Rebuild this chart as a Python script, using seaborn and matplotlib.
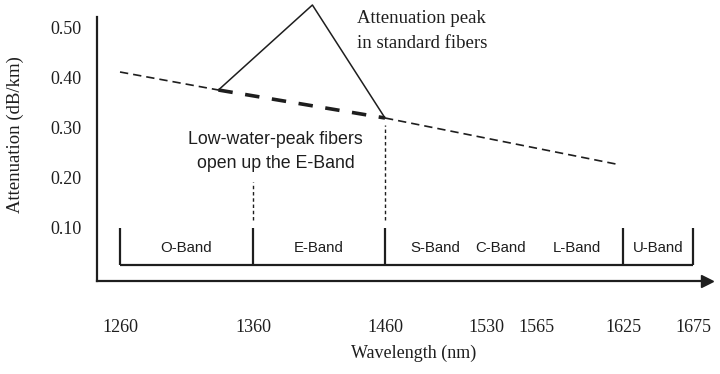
import numpy as np
import pandas as pd
import matplotlib
matplotlib.use("Agg")
import matplotlib.pyplot as plt
import matplotlib.transforms as mtransforms
import seaborn as sns

# ---- data -------------------------------------------------------------
# attenuation of low-water-peak fiber (dashed curve)
curve_wl = [1260, 1334]
curve_att = [0.400, 0.364]
curve_wl_right = [1460, 1620]
curve_att_right = [0.308, 0.216]
# low-water-peak fiber across the E-band (heavy dashes)
lwp_wl = [1334, 1460]
lwp_att = [0.364, 0.308]
# water absorption peak in standard fiber
peak_wl = [1334, 1405, 1460]
peak_att = [0.364, 0.534, 0.308]

band_edges = [1260, 1360, 1460, 1625, 1675]
band_names = ["O-Band", "E-Band", "S-Band", "C-Band", "L-Band", "U-Band"]
band_label_wl = [1310, 1410, 1495, 1540, 1593, 1650]
band_floor, band_top = 0.014, 0.088

x_tick_wl = [1260, 1360, 1460, 1530, 1565, 1625, 1675]
x_tick_labels = ["1260", "1360", "1460", "1530", "1565", "1625", "1675"]
y_tick_vals = [0.10, 0.20, 0.30, 0.40, 0.50]
y_tick_labels = ["0.10", "0.20", "0.30", "0.40", "0.50"]

# non-uniform wavelength axis (schematic spacing of the bands)
scale_wl = [1000, 1260, 1360, 1460, 1625, 1675, 2000]
scale_pos = [-225.8, 120, 253, 385, 623, 693, 1148]


def wl_forward(w):
    return np.interp(np.asarray(w, float), scale_wl, scale_pos)


def wl_inverse(p):
    return np.interp(np.asarray(p, float), scale_pos, scale_wl)


# ---- figure -----------------------------------------------------------
sns.set_theme(style="white")
SERIF = ["Liberation Serif", "DejaVu Serif"]
SANS = ["Liberation Sans", "DejaVu Sans"]
plt.rcParams["font.family"] = SERIF
INK = "#1e1e1e"

fig = plt.figure(figsize=(7.2, 3.74), dpi=100)
W, H = 720, 374
left, right, bottom, top = 97, 707, 281, 3
ax = fig.add_axes([left / W, (H - bottom) / H, (right - left) / W, (bottom - top) / H])
ax.set_xscale("function", functions=(wl_forward, wl_inverse))
ax.set_xlim(wl_inverse(left), wl_inverse(right))
y0 = 0.10 - (bottom - 222) / 500
ax.set_ylim(y0, 0.50 + (22 - top) / 500)

for side in ("top", "right"):
    ax.spines[side].set_visible(False)
for side in ("left", "bottom"):
    ax.spines[side].set_color(INK)
    ax.spines[side].set_linewidth(1.6)
ax.spines["left"].set_bounds(y0, 0.51)

# arrow head on the wavelength axis
ax.plot(1.0, 0.0, marker=">", ms=9, color=INK, transform=ax.transAxes, clip_on=False)

# attenuation curves
df_l = pd.DataFrame({"wl": curve_wl, "att": curve_att})
df_r = pd.DataFrame({"wl": curve_wl_right, "att": curve_att_right})
df_lwp = pd.DataFrame({"wl": lwp_wl, "att": lwp_att})
df_pk = pd.DataFrame({"wl": peak_wl, "att": peak_att})
for d in (df_l, df_r):
    sns.lineplot(data=d, x="wl", y="att", ax=ax, color=INK, lw=1.2,
                 linestyle=(0, (5, 3)), sort=False)
sns.lineplot(data=df_lwp, x="wl", y="att", ax=ax, color=INK, lw=2.6,
             linestyle=(0, (4, 3.5)), sort=False)
sns.lineplot(data=df_pk, x="wl", y="att", ax=ax, color=INK, lw=1.1, sort=False,
             clip_on=False)

# dotted guides marking the E-band
ax.vlines([band_edges[1]], 0.104, 0.18, colors=INK, lw=1.0, linestyles=(0, (2.5, 2)))
ax.vlines([band_edges[2]], 0.104, 0.294, colors=INK, lw=1.0, linestyles=(0, (2.5, 2)))

# band boxes
ax.hlines(band_floor, band_edges[0], band_edges[-1], colors=INK, lw=1.6)
ax.vlines(band_edges, band_floor, band_top, colors=INK, lw=1.6)
for name, wl in zip(band_names, band_label_wl):
    ax.text(wl, 0.048, name, ha="center", va="center", fontsize=10.8,
            family=SANS, color=INK)

# annotations
ax.text(1439, 0.524, "Attenuation peak\nin standard fibers", ha="left", va="top",
        fontsize=13.5, color=INK, linespacing=1.65, clip_on=False)
ax.text(1377, 0.281, "Low-water-peak fibers\nopen up the E-Band", ha="center",
        va="top", fontsize=12.8, family=SANS, color=INK, linespacing=1.5)

# ticks
ax.set_xticks(x_tick_wl, x_tick_labels)
ax.set_xticks(band_edges, minor=True)
ax.tick_params(axis="x", which="major", length=0, pad=27, labelsize=13, labelcolor=INK)
ax.tick_params(axis="x", which="minor", direction="out", length=13.5, width=1.4,
               color=INK, bottom=True)
ax.set_yticks(y_tick_vals, y_tick_labels)
ax.set_yticks(y_tick_vals[1:4], minor=True)
ax.tick_params(axis="y", which="major", length=0, pad=11, labelsize=13, labelcolor=INK)
ax.tick_params(axis="y", which="minor", direction="in", length=9.5, width=1.4,
               color=INK, left=True)
shift = mtransforms.ScaledTranslation(0, -6 / 100, fig.dpi_scale_trans)
for lab in ax.get_yticklabels():
    lab.set_transform(lab.get_transform() + shift)

ax.set_xlabel("Wavelength (nm)", fontsize=13, color=INK)
ax.xaxis.set_label_coords((414 - left) / (right - left), -(345 - bottom) / (bottom - top))
ax.set_ylabel("Attenuation (dB/km)", fontsize=13.5, color=INK)
ax.yaxis.set_label_coords(-(left - 24) / (right - left), (bottom - 135) / (bottom - top))

fig.savefig("out.png", dpi=100)
